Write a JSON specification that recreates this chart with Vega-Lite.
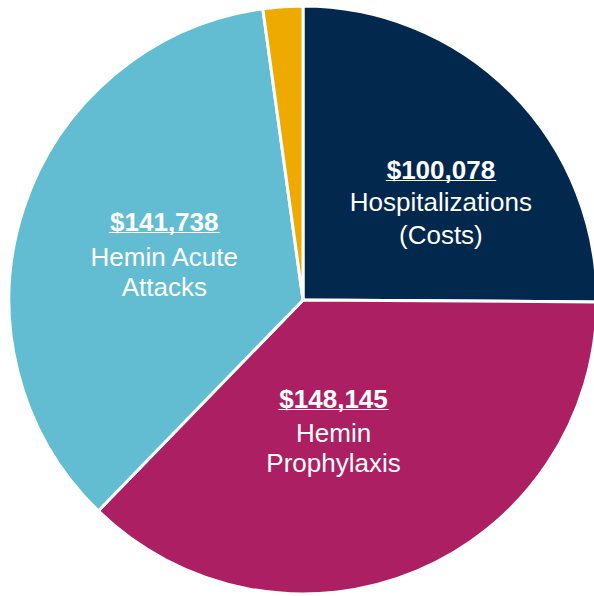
{
  "$schema": "https://vega.github.io/schema/vega-lite/v6.json",
  "width": 606,
  "height": 600,
  "padding": 0,
  "autosize": {"type": "none"},
  "background": "white",
  "config": {"view": {"stroke": null}},
  "data": {
    "values": [
      {"category": "Hospitalizations (Costs)", "amount": 100078, "label": "$100,078", "lines": ["Hospitalizations", "(Costs)"], "order": 1},
      {"category": "Hemin Prophylaxis", "amount": 148145, "label": "$148,145", "lines": ["Hemin", "Prophylaxis"], "order": 2},
      {"category": "Hemin Acute Attacks", "amount": 141738, "label": "$141,738", "lines": ["Hemin Acute", "Attacks"], "order": 3},
      {"category": "Other", "amount": 8700, "label": "", "lines": [""], "order": 4}
    ]
  },
  "encoding": {
    "theta": {"field": "amount", "type": "quantitative", "stack": true},
    "order": {"field": "order", "type": "quantitative"},
    "detail": {"field": "category", "type": "nominal"}
  },
  "layer": [
    {
      "mark": {"type": "arc", "outerRadius": 294, "stroke": "white", "strokeWidth": 3},
      "encoding": {
        "color": {
          "field": "category", "type": "nominal", "legend": null,
          "scale": {
            "domain": ["Hospitalizations (Costs)", "Hemin Prophylaxis", "Hemin Acute Attacks", "Other"],
            "range": ["#02284e", "#ad1f63", "#62bdd3", "#eeaa00"]
          }
        }
      }
    },
    {
      "mark": {"type": "text", "radius": 169, "dx": 18, "dy": -10, "font": "Liberation Sans", "fontSize": 26, "fontWeight": "bold", "color": "white", "align": "center", "baseline": "middle"},
      "encoding": {"text": {"condition": {"test": "datum.order === 1", "field": "label"}, "value": ""}}
    },
    {
      "mark": {"type": "text", "radius": 169, "dx": 18, "dy": -10, "font": "Liberation Sans", "fontSize": 24.7, "fontWeight": "bold", "color": "white", "align": "center", "baseline": "middle"},
      "encoding": {"text": {"condition": {"test": "datum.order === 1", "value": "________"}, "value": ""}}
    },
    {
      "mark": {"type": "text", "radius": 169, "dx": 18, "dy": 22, "font": "Liberation Sans", "fontSize": 26, "lineHeight": 33, "color": "white", "align": "center", "baseline": "middle"},
      "encoding": {"text": {"condition": {"test": "datum.order === 1", "field": "lines"}, "value": ""}}
    },
    {
      "mark": {"type": "text", "radius": 136, "dx": -22, "dy": -25, "font": "Liberation Sans", "fontSize": 26, "fontWeight": "bold", "color": "white", "align": "center", "baseline": "middle"},
      "encoding": {"text": {"condition": {"test": "datum.order === 2", "field": "label"}, "value": ""}}
    },
    {
      "mark": {"type": "text", "radius": 136, "dx": -22, "dy": -25, "font": "Liberation Sans", "fontSize": 24.7, "fontWeight": "bold", "color": "white", "align": "center", "baseline": "middle"},
      "encoding": {"text": {"condition": {"test": "datum.order === 2", "value": "________"}, "value": ""}}
    },
    {
      "mark": {"type": "text", "radius": 136, "dx": -22, "dy": 9, "font": "Liberation Sans", "fontSize": 26, "lineHeight": 30, "color": "white", "align": "center", "baseline": "middle"},
      "encoding": {"text": {"condition": {"test": "datum.order === 2", "field": "lines"}, "value": ""}}
    },
    {
      "mark": {"type": "text", "radius": 146, "dx": 0, "dy": -32, "font": "Liberation Sans", "fontSize": 26, "fontWeight": "bold", "color": "white", "align": "center", "baseline": "middle"},
      "encoding": {"text": {"condition": {"test": "datum.order === 3", "field": "label"}, "value": ""}}
    },
    {
      "mark": {"type": "text", "radius": 146, "dx": 0, "dy": -32, "font": "Liberation Sans", "fontSize": 24.7, "fontWeight": "bold", "color": "white", "align": "center", "baseline": "middle"},
      "encoding": {"text": {"condition": {"test": "datum.order === 3", "value": "________"}, "value": ""}}
    },
    {
      "mark": {"type": "text", "radius": 146, "dx": 0, "dy": 3, "font": "Liberation Sans", "fontSize": 26, "lineHeight": 30, "color": "white", "align": "center", "baseline": "middle"},
      "encoding": {"text": {"condition": {"test": "datum.order === 3", "field": "lines"}, "value": ""}}
    }
  ]
}
